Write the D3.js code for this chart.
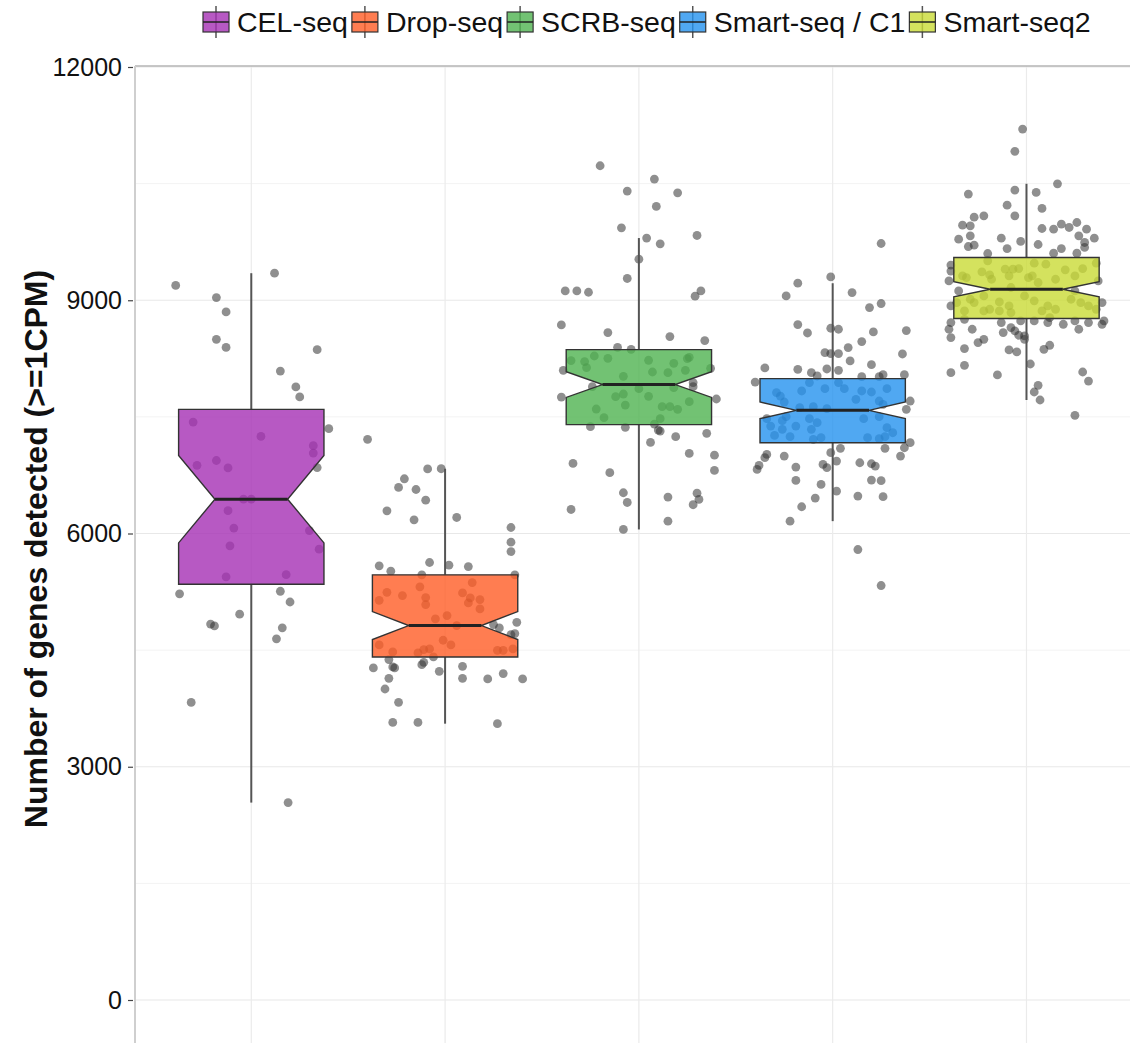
<!DOCTYPE html>
<html>
<head>
<meta charset="utf-8">
<script src="https://cdn.jsdelivr.net/npm/d3@7"></script>
<style>
  body { margin: 0; background: #fff; }
  svg { display: block; }
  text { font-family: "Liberation Sans", Arial, Helvetica, sans-serif; }
</style>
</head>
<body>
<svg id="chart" width="1130" height="1043"></svg>
<script>
// Protocols compared
const categories = ["CEL-seq", "Drop-seq", "SCRB-seq", "Smart-seq / C1", "Smart-seq2"];
const boxColors = ["#a52fb4", "#ff5c26", "#4fb350", "#2492ef", "#c9db36"];

// Notched boxplot summaries (genes detected per cell)
const lowerWhisker = [2539, 3554, 6052, 6159, 7717];
const lowerHinge   = [5348, 4412, 7400, 7168, 8765];
const notchLow     = [5879, 4636, 7750, 7477, 9045];
const medians      = [6441, 4816, 7915, 7584, 9142];
const notchHigh    = [7003, 4996, 8080, 7691, 9239];
const upperHinge   = [7596, 5468, 8365, 7992, 9550];
const upperWhisker = [9348, 6833, 9800, 9219, 10498];

const yTicks = [0, 3000, 6000, 9000, 12000];
const yMinorTicks = [1500, 4500, 7500, 10500];

// Individual cells: [horizontal jitter (fraction of category step), genes detected]
const celSeq = [[-0.39,9191],[0.12,9348],[-0.18,9035],[-0.13,8850],[-0.18,8498],[-0.13,8393],[0.34,8364],[0.15,8089],[0.23,7885],[0.25,7757],[0.40,7348],[-0.30,7433],[0.05,7248],[0.32,7130],[0.32,7034],[-0.28,6877],[-0.18,6939],[-0.12,6844],[0.34,6848],[-0.04,6441],[0.00,6441],[-0.12,6293],[-0.09,6070],[0.30,6037],[-0.11,5842],[0.35,5799],[-0.13,5443],[0.18,5471],[-0.37,5224],[0.15,5257],[0.20,5119],[-0.06,4962],[-0.21,4835],[-0.19,4811],[0.16,4787],[0.13,4645],[-0.31,3827],[0.19,2539]];

const dropSeq = [[-0.40,7211],[-0.09,6830],[-0.02,6833],[-0.21,6704],[-0.24,6592],[-0.15,6566],[-0.10,6429],[-0.30,6292],[-0.16,6176],[0.06,6206],[0.34,6077],[0.34,5888],[0.34,5768],[-0.34,5584],[-0.28,5515],[-0.08,5627],[0.02,5592],[0.12,5575],[-0.12,5468],[0.36,5468],[-0.30,5244],[-0.34,5141],[-0.22,5202],[-0.13,5314],[-0.10,5176],[-0.10,5086],[0.09,5236],[0.14,5369],[0.12,5107],[0.13,5172],[0.18,5150],[0.18,5030],[-0.05,4902],[0.01,4944],[0.06,4816],[0.25,4828],[0.28,4786],[0.37,4858],[0.36,4713],[0.34,4700],[-0.34,4567],[-0.27,4477],[-0.01,4627],[0.03,4567],[-0.14,4464],[-0.11,4507],[-0.08,4515],[-0.06,4412],[0.27,4498],[0.30,4498],[0.35,4515],[-0.29,4378],[-0.37,4271],[-0.27,4284],[-0.26,4271],[-0.12,4313],[-0.11,4343],[-0.03,4227],[0.09,4292],[-0.29,4137],[0.09,4137],[0.22,4129],[0.30,4198],[0.40,4129],[-0.31,4000],[-0.24,3828],[-0.27,3570],[-0.14,3570],[0.27,3554]];

const scrbSeq = [[-0.20,10730],[0.08,10558],[-0.06,10404],[0.20,10382],[0.09,10207],[-0.09,9932],[0.04,9800],[0.30,9833],[0.11,9726],[0,9528],[-0.06,9280],[-0.38,9120],[-0.32,9120],[-0.26,9103],[0.32,9120],[0.29,9052],[-0.40,8682],[-0.16,8584],[0.16,8533],[0.34,8481],[-0.11,8395],[-0.04,8369],[-0.35,8224],[-0.28,8211],[-0.27,8134],[-0.23,8283],[-0.16,8253],[0.05,8228],[0.18,8189],[0.25,8250],[0.26,8266],[-0.39,8099],[-0.08,8022],[0.07,8077],[0.15,8069],[0.24,8099],[0.37,8125],[0.28,7941],[0.28,7889],[-0.24,7889],[0,7863],[0.18,7876],[-0.40,7755],[-0.12,7760],[-0.08,7794],[0.05,7764],[0.40,7730],[-0.07,7652],[0.26,7696],[-0.22,7601],[0.12,7631],[0.16,7631],[0.20,7597],[-0.18,7490],[0.11,7477],[-0.25,7374],[-0.07,7365],[0.08,7408],[0.10,7331],[0.11,7318],[0.19,7245],[0.35,7288],[0.06,7172],[0.26,7030],[0.39,7008],[-0.34,6901],[0.39,6811],[-0.15,6782],[-0.08,6524],[-0.06,6399],[0.15,6468],[0.30,6519],[0.31,6438],[0.28,6370],[-0.35,6309],[0.15,6159],[-0.08,6052]];

const smartSeqC1 = [[0.25,9730],[-0.01,9300],[-0.18,9219],[-0.24,9056],[0.10,9099],[0.19,8906],[0.25,8958],[-0.18,8687],[-0.13,8579],[-0.01,8640],[0.03,8627],[0.21,8592],[0.38,8610],[0.15,8468],[0.08,8391],[-0.04,8327],[-0.01,8314],[0.03,8314],[0.36,8309],[0.09,8219],[0.20,8172],[-0.35,8129],[-0.18,8112],[-0.03,8116],[0.03,8099],[-0.11,8069],[-0.08,8026],[0.26,8043],[0.37,8043],[-0.40,7948],[0.15,8017],[0.24,8017],
  [-0.29,7812],[-0.27,7768],[-0.25,7691],[-0.16,7833],[-0.12,7941],[-0.04,7863],[0.03,7941],[0.06,7863],[0.15,7833],[0.20,7820],[0.28,7863],[0.12,7726],[0.24,7704],[0.26,7661],[0.40,7704],[-0.17,7618],[-0.10,7631],[-0.03,7605],[0.38,7597],[-0.34,7477],[-0.24,7503],[-0.12,7477],[0.16,7477],[0.24,7503],[-0.32,7382],[-0.26,7340],[-0.19,7382],[-0.08,7425],[0.28,7361],[0.31,7296],[-0.30,7262],[-0.22,7245],[-0.10,7211],[0.18,7232],[0.27,7245],[0.40,7168],[-0.26,7451],[-0.11,7340],[0.24,7220],[-0.06,7232],
  [0.04,7095],[0.27,7095],[0.37,7103],[-0.01,7039],[-0.34,7017],[-0.35,6975],[-0.25,6996],[0.35,6996],[-0.38,6876],[-0.39,6824],[-0.19,6854],[-0.05,6889],[-0.03,6846],[0.02,6931],[0.14,6910],[0.20,6897],[0.22,6867],[-0.19,6683],[-0.06,6631],[0.20,6687],[0.25,6679],[0.02,6545],[-0.09,6455],[0.13,6481],[0.26,6473],[-0.16,6344],[-0.22,6159],[0.13,5794],[0.25,5331]];

const smartSeq2 = [[-0.02,11202],[-0.06,10915],[0.16,10498],[-0.06,10417],[0.05,10387],[-0.30,10365],[-0.10,10223],[0.08,10181],[-0.27,10069],[-0.22,10086],[-0.06,10086],[-0.33,9966],[-0.29,9957],[0.18,9979],[0.22,9936],[0.26,10000],[0.31,9914],[0.08,9923],[0.14,9914],[-0.29,9828],[-0.35,9786],[-0.13,9798],[-0.03,9756],[0.27,9828],[0.35,9798],[-0.30,9691],[-0.27,9708],[-0.10,9665],[0.06,9717],[0.18,9665],[0.30,9743],[0.30,9679],[-0.20,9601],[0.14,9605],[0.26,9605],[-0.39,9375],
  [-0.39,9452],[-0.23,9365],[-0.19,9326],[-0.11,9400],[-0.09,9314],[-0.04,9408],[0.04,9477],[0.10,9464],[0.20,9391],[0.29,9408],[0.36,9477],[-0.31,9292],[-0.20,9507],[0.01,9292],[0.06,9228],[0.15,9270],[0.25,9314],[-0.40,9249],[0.37,9249],[-0.35,9120],[-0.39,8927],[-0.36,8970],[-0.29,9013],[-0.27,8970],[-0.19,8884],[-0.14,8979],[-0.14,8863],[-0.09,8927],[-0.01,9056],[0.11,8927],[0.15,8884],[0.23,9013],[0.28,8970],[0.32,8927],[0.36,8884],[0.39,8970],[0.04,8992],[-0.22,9056],[-0.08,9164],[0.25,9120],[-0.33,9314],[-0.18,9270],[-0.07,9400],[0.03,9314],[-0.22,8863],[-0.08,8842],[0.08,8863],[-0.32,8863],
  [-0.40,8627],[-0.39,8520],[-0.28,8627],[-0.22,8498],[-0.25,8455],[-0.32,8378],[-0.13,8713],[-0.12,8584],[-0.08,8649],[-0.06,8605],[-0.04,8550],[-0.01,8541],[-0.01,8498],[-0.09,8361],[-0.05,8335],[0.09,8369],[0.12,8421],[0.19,8691],[0.25,8734],[0.27,8627],[0.32,8713],[0.39,8691],[0.11,8713],[0.04,8734],[-0.32,8163],[-0.39,8069],[-0.15,8039],[0.02,8180],[0.29,8077],[0.32,7961],[0.06,7906],[0.04,7820],[0.07,7717],[0.25,7520],[-0.39,8713],[-0.32,8755],[-0.03,8734],[0.12,8777],[0.40,8734]];

const cellPoints = [celSeq, dropSeq, scrbSeq, smartSeqC1, smartSeq2];

// ---- layout ----
const W = 1130, H = 1043;
const panelLeft = 135, panelTop = 66;
const step = 193.8;           // distance between category centres
const boxWidth = 0.75 * step; // box width
const notchWidth = 0.5;       // notch width relative to box

const svg = d3.select("#chart");
svg.append("rect").attr("width", W).attr("height", H).attr("fill", "#fff");

const x = d3.scalePoint()
  .domain(categories)
  .range([panelLeft, panelLeft + step * (categories.length - 1 + 1.2)])
  .padding(0.6);
const y = d3.scaleLinear().domain([0, 12000]).range([1000, 67]);

// grid
const grid = svg.append("g");
grid.selectAll("line.minor").data(yMinorTicks).join("line")
  .attr("x1", panelLeft).attr("x2", W)
  .attr("y1", d => y(d)).attr("y2", d => y(d))
  .attr("stroke", "#f3f3f3").attr("stroke-width", 1);
grid.selectAll("line.major").data(yTicks).join("line")
  .attr("x1", panelLeft).attr("x2", W)
  .attr("y1", d => y(d)).attr("y2", d => y(d))
  .attr("stroke", "#e8e8e8").attr("stroke-width", 1.2);
grid.selectAll("line.vert").data(categories).join("line")
  .attr("x1", d => x(d)).attr("x2", d => x(d))
  .attr("y1", panelTop).attr("y2", H)
  .attr("stroke", "#ebebeb").attr("stroke-width", 1.2);

// panel border (top and left)
svg.append("line").attr("x1", panelLeft).attr("x2", W).attr("y1", panelTop).attr("y2", panelTop)
  .attr("stroke", "#b5b5b5").attr("stroke-width", 1.5);
svg.append("line").attr("x1", panelLeft).attr("x2", panelLeft).attr("y1", panelTop).attr("y2", H)
  .attr("stroke", "#cfcfcf").attr("stroke-width", 2);

// y axis
const yAxis = svg.append("g")
  .attr("transform", `translate(${panelLeft - 2},0)`)
  .call(d3.axisLeft(y).tickValues(yTicks).tickSize(5).tickPadding(6).tickFormat(d3.format("d")));
yAxis.select(".domain").remove();
yAxis.selectAll(".tick line").attr("stroke", "#444").attr("stroke-width", 1.2);
yAxis.selectAll(".tick text").attr("fill", "#111").style("font-size", "25px");

svg.append("text")
  .attr("transform", `translate(47,549) rotate(-90)`)
  .attr("text-anchor", "middle")
  .attr("fill", "#111")
  .style("font-size", "32px").style("font-weight", "bold")
  .text("Number of genes detected (>=1CPM)");

// jittered cells
const pts = svg.append("g");
cellPoints.forEach((arr, i) => {
  const cx = x(categories[i]);
  pts.selectAll(null).data(arr).join("circle")
    .attr("cx", d => cx + d[0] * step)
    .attr("cy", d => y(d[1]))
    .attr("r", 4.4)
    .attr("fill", "#333")
    .attr("fill-opacity", 0.55);
});

// notched boxplots
const boxes = svg.append("g");
categories.forEach((c, i) => {
  const cx = x(c);
  const hw = boxWidth / 2, nw = hw * notchWidth;
  const g = boxes.append("g");
  g.append("line").attr("x1", cx).attr("x2", cx)
    .attr("y1", y(upperWhisker[i])).attr("y2", y(upperHinge[i]))
    .attr("stroke", "#555").attr("stroke-width", 2);
  g.append("line").attr("x1", cx).attr("x2", cx)
    .attr("y1", y(lowerHinge[i])).attr("y2", y(lowerWhisker[i]))
    .attr("stroke", "#555").attr("stroke-width", 2);
  const poly = [
    [cx - hw, y(upperHinge[i])], [cx + hw, y(upperHinge[i])],
    [cx + hw, y(notchHigh[i])], [cx + nw, y(medians[i])],
    [cx + hw, y(notchLow[i])], [cx + hw, y(lowerHinge[i])],
    [cx - hw, y(lowerHinge[i])], [cx - hw, y(notchLow[i])],
    [cx - nw, y(medians[i])], [cx - hw, y(notchHigh[i])]
  ];
  g.append("path").attr("d", d3.line()(poly) + "Z")
    .attr("fill", boxColors[i]).attr("fill-opacity", 0.8)
    .attr("stroke", "#333").attr("stroke-width", 1.4)
    .attr("stroke-linejoin", "miter");
  g.append("line").attr("x1", cx - nw).attr("x2", cx + nw)
    .attr("y1", y(medians[i])).attr("y2", y(medians[i]))
    .attr("stroke", "#222").attr("stroke-width", 3);
});

// legend
const legend = svg.append("g");
let lx = 201;
const ly = 22;
categories.forEach((c, i) => {
  const g = legend.append("g").attr("transform", `translate(${lx},${ly})`);
  g.append("line").attr("x1", 15).attr("x2", 15).attr("y1", -16).attr("y2", 16)
    .attr("stroke", "#555").attr("stroke-width", 1.5);
  g.append("rect").attr("x", 2).attr("y", -10).attr("width", 26).attr("height", 20)
    .attr("fill", boxColors[i]).attr("fill-opacity", 0.8)
    .attr("stroke", "#333").attr("stroke-width", 1.2);
  g.append("line").attr("x1", 2).attr("x2", 28).attr("y1", 0).attr("y2", 0)
    .attr("stroke", "#222").attr("stroke-width", 1.5);
  const t = g.append("text").attr("x", 36).attr("y", 10)
    .attr("fill", "#111").style("font-size", "28.5px").text(c);
  lx += 36 + t.node().getComputedTextLength() + 2;
});
</script>
</body>
</html>
